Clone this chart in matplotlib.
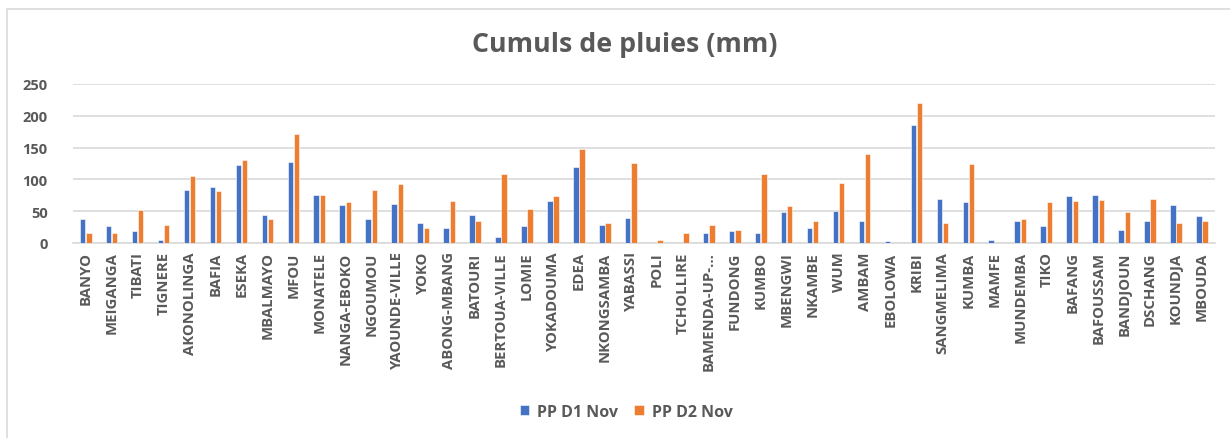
import matplotlib
matplotlib.use("Agg")
import matplotlib.pyplot as plt
import numpy as np
from matplotlib.patches import Rectangle

stations = ["BANYO", "MEIGANGA", "TIBATI", "TIGNERE", "AKONOLINGA", "BAFIA", "ESEKA",
            "MBALMAYO", "MFOU", "MONATELE", "NANGA-EBOKO", "NGOUMOU", "YAOUNDE-VILLE",
            "YOKO", "ABONG-MBANG", "BATOURI", "BERTOUA-VILLE", "LOMIE", "YOKADOUMA",
            "EDEA", "NKONGSAMBA", "YABASSI", "POLI", "TCHOLLIRE", "BAMENDA-UP-…",
            "FUNDONG", "KUMBO", "MBENGWI", "NKAMBE", "WUM", "AMBAM", "EBOLOWA", "KRIBI",
            "SANGMELIMA", "KUMBA", "MAMFE", "MUNDEMBA", "TIKO", "BAFANG", "BAFOUSSAM",
            "BANDJOUN", "DSCHANG", "KOUNDJA", "MBOUDA"]

pp_d1 = [38, 26, 19, 4, 83, 88, 123, 44, 127, 75, 60, 38, 61, 32,
         23, 44, 10, 27, 66, 119, 29, 40, 0, 0, 15, 19, 16, 49, 24,
         50, 34, 3, 185, 69, 64, 5, 34, 27, 74, 75, 21, 34, 60, 43]
pp_d2 = [16, 15, 52, 29, 105, 81, 130, 38, 171, 75, 64, 83, 92, 24,
         66, 34, 108, 54, 74, 148, 32, 126, 5, 16, 29, 21, 109, 58, 34,
         95, 140, 0, 220, 32, 125, 0, 38, 64, 66, 67, 49, 69, 31, 35]

yticks = [0, 50, 100, 150, 200, 250]

blue = "#4472C4"
orange = "#ED7D31"
grey_txt = "#595959"
grid_c = "#D9D9D9"

fam = ["Open Sans", "DejaVu Sans"]

fig = plt.figure(figsize=(12.30, 4.39), dpi=100)
ax = fig.add_axes([72.7 / 1230, 1 - 244 / 439, (1215 - 72.7) / 1230, (244 - 85) / 439])

x = np.arange(len(stations))
w = 0.21
ax.bar(x - 0.12, pp_d1, width=w, color=blue, edgecolor="#ffffff", linewidth=0.4,
       label="PP D1 Nov", zorder=3)
ax.bar(x + 0.12, pp_d2, width=w, color=orange, edgecolor="#ffffff", linewidth=0.4,
       label="PP D2 Nov", zorder=3)

ax.set_xlim(-0.5, len(stations) - 0.5)
ax.set_ylim(0, 250)
ax.set_yticks(yticks)
ax.yaxis.grid(True, color=grid_c, linewidth=1.2, zorder=0)
ax.set_axisbelow(True)
for s in ["top", "right", "left"]:
    ax.spines[s].set_visible(False)
ax.spines["bottom"].set_color(grid_c)
ax.spines["bottom"].set_linewidth(1.2)
ax.tick_params(axis="both", length=0)
ax.tick_params(axis="y", pad=18)
ax.tick_params(axis="x", pad=6)
ax.set_xticks(x)
ax.set_xticklabels(stations, rotation=90, fontsize=10.7, color=grey_txt,
                   family=fam, fontweight="bold")
for lab in ax.get_yticklabels():
    lab.set_fontsize(10.5)
    lab.set_color(grey_txt)
    lab.set_family(fam)
    lab.set_fontweight("bold")

fig.text(0.508, 1 - 45 / 439, "Cumuls de pluies (mm)", ha="center", va="center",
         fontsize=19.3, fontweight="bold", color=grey_txt, family=fam)

leg = fig.legend(loc="center", bbox_to_anchor=(0.509, 1 - 413 / 439), ncol=2,
                 frameon=False, fontsize=11.5, handlelength=0.6, handleheight=0.6,
                 columnspacing=1.0, handletextpad=0.5)
for t in leg.get_texts():
    t.set_color(grey_txt)
    t.set_family(fam)
    t.set_fontweight("bold")

# light chart border (partly cropped in reference)
fig.patches.append(Rectangle((7 / 1230, -0.05), 1.2, 1 - 10 / 439 + 0.05,
                             transform=fig.transFigure, fill=False,
                             edgecolor="#D9D9D9", linewidth=1.2))

fig.savefig("out.png", dpi=100)
